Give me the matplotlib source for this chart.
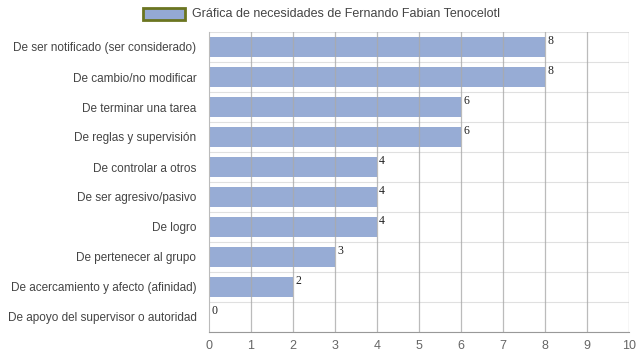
import matplotlib
matplotlib.use("Agg")
import matplotlib.pyplot as plt
import numpy as np
from matplotlib.patches import Rectangle

categories = [
    "De ser notificado (ser considerado)",
    "De cambio/no modificar",
    "De terminar una tarea",
    "De reglas y supervisión",
    "De controlar a otros",
    "De ser agresivo/pasivo",
    "De logro",
    "De pertenecer al grupo",
    "De acercamiento y afecto (afinidad)",
    "De apoyo del supervisor o autoridad",
]
values = [8, 8, 6, 6, 4, 4, 4, 3, 2, 0]
xticks = list(range(0, 11))
legend_label = "Gráfica de necesidades de Fernando Fabian Tenocelotl"

plt.rcParams['font.family'] = ['Liberation Sans', 'DejaVu Sans']

fig = plt.figure(figsize=6.39 * np.array([1, 360 / 639]), dpi=100)
ax = fig.add_axes([209 / 639, 1 - 332 / 360, 420 / 639, 300 / 360])

y = np.arange(len(categories))
bar_color = "#94a9d4"
ax.barh(y, values, height=0.66, color=bar_color, zorder=1, alpha=0.97)

ax.set_xlim(0, 10)
ax.set_ylim(len(categories) - 0.5, -0.5)
ax.set_xticks(xticks)
ax.set_xticklabels([str(t) for t in xticks], color="#666666", fontsize=9)
ax.set_yticks(y)
ax.set_yticklabels(categories, color="#444444", fontsize=8.5)
ax.set_yticks(np.arange(len(categories) + 1) - 0.5, minor=True)
ax.tick_params(axis="y", which="both", length=0, pad=9)
ax.tick_params(axis="x", length=0, pad=6)

for xv in xticks[1:]:
    ax.axvline(xv, color="#aaaaaa", lw=0.9, zorder=2, alpha=0.8)
ax.grid(axis="y", which="minor", color="#e0e0e0", lw=0.8, zorder=0)

for s in ["top", "right"]:
    ax.spines[s].set_visible(False)
ax.spines["bottom"].set_color("#999999")
ax.spines["left"].set_color("#bbbbbb")
ax.spines["left"].set_linewidth(0.8)

for yi, v in zip(y, values):
    ax.text(v + 0.05, yi - 0.2, str(v), fontsize=8.5, family="Liberation Serif",
            color="#222222", va="center", ha="left", zorder=3)

# legend
fig.patches.append(Rectangle((143 / 639, 1 - 20 / 360), 42 / 639, 12 / 360,
                             transform=fig.transFigure, facecolor=bar_color,
                             edgecolor="#6b7520", lw=2, figure=fig))
fig.text(192 / 639, 1 - 14 / 360, legend_label, fontsize=9, color="#444444",
         va="center", ha="left")

fig.savefig("out.png", dpi=100)
